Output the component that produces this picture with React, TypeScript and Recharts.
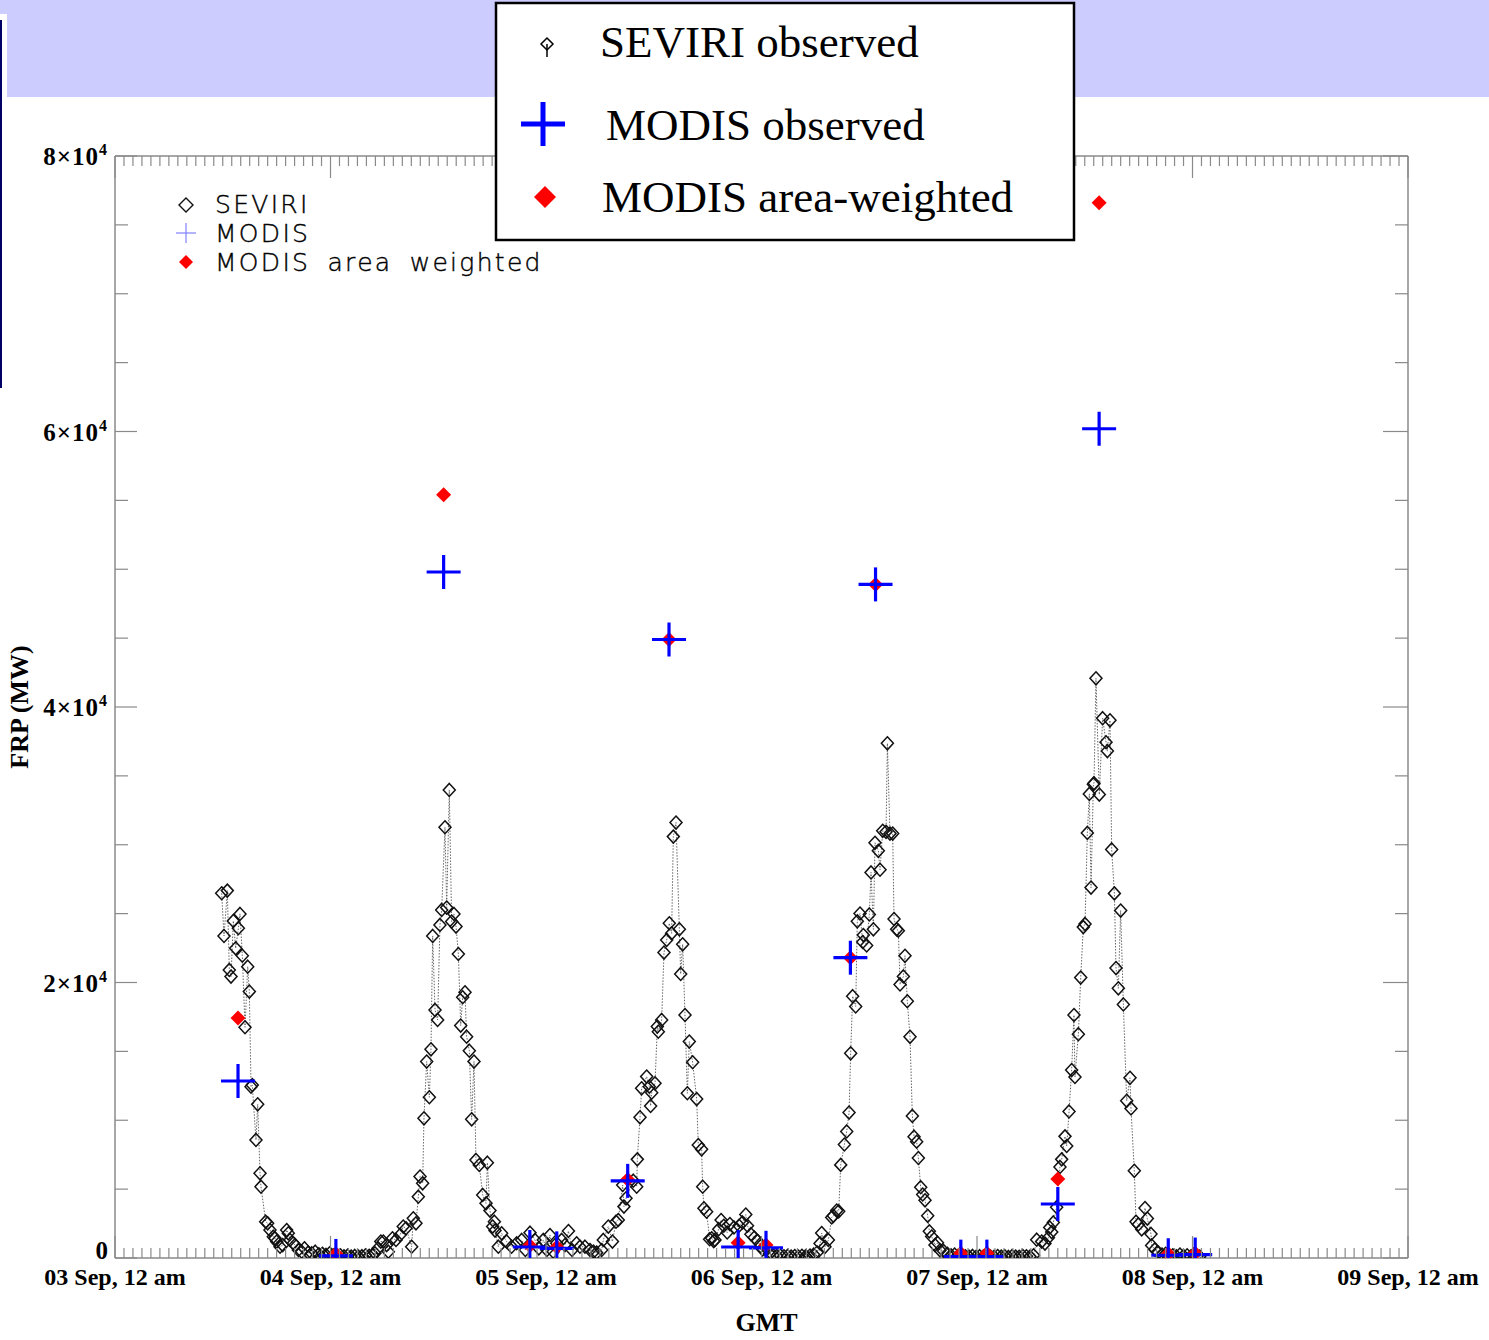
import React from 'react';
import { ScatterChart, Scatter, XAxis, YAxis, Label } from 'recharts';

// ---------- data (hours since 03 Sep 00:00 GMT, FRP in MW) ----------
const dayTickLabels = [
  '03 Sep, 12 am', '04 Sep, 12 am', '05 Sep, 12 am', '06 Sep, 12 am',
  '07 Sep, 12 am', '08 Sep, 12 am', '09 Sep, 12 am',
];
const frpTickMantissa = ['0', '2', '4', '6', '8'];
const frpTickExponent = '4';

const boxLegendNames = ['SEVIRI observed', 'MODIS observed', 'MODIS area-weighted'];
const innerLegendNames = ['SEVIRI', 'MODIS', 'MODIS area weighted'];

const seviriPoints: [number, number][] = [
  [11.88, 26480], [12.14, 23380], [12.51, 26670], [12.73, 20910], [12.92, 20430], [13.18, 24470],
  [13.44, 22480], [13.74, 23940], [13.92, 24980], [14.18, 21950], [14.48, 16750], [14.78, 21150],
  [14.96, 19340], [15.15, 12440], [15.29, 12560], [15.7, 8570], [15.89, 11160], [16.15, 6150],
  [16.26, 5180], [16.78, 2640], [17.0, 2520], [17.26, 2030], [17.63, 1550], [17.82, 1430],
  [18.0, 1190], [18.38, 820], [18.67, 940], [19.12, 2030], [19.3, 1790], [19.49, 1310],
  [19.86, 1070], [20.05, 940], [20.42, 580], [20.8, 460], [21.1, 700], [21.5, 390],
  [21.9, 340], [22.3, 460], [22.7, 270], [23.1, 300], [23.5, 220], [23.9, 340],
  [24.3, 200], [24.7, 150], [25.1, 200], [25.5, 120], [25.9, 170], [26.3, 100],
  [26.7, 150], [27.1, 100], [27.5, 130], [27.9, 200], [28.3, 160], [28.7, 250],
  [28.95, 340], [29.3, 700], [29.6, 1190], [29.88, 1190], [30.25, 940], [30.44, 460],
  [30.9, 1430], [31.3, 1310], [31.74, 1670], [32.1, 2280], [32.41, 2160], [33.04, 820],
  [33.22, 2880], [33.52, 2520], [33.78, 4450], [33.97, 5910], [34.26, 5420], [34.41, 10140],
  [34.71, 14260], [35.01, 11670], [35.19, 15150], [35.38, 23380], [35.64, 18010], [35.93, 17280],
  [36.19, 24180], [36.38, 25270], [36.75, 31270], [36.94, 25440], [37.23, 33980], [37.49, 24420],
  [37.75, 24980], [37.98, 24060], [38.24, 22070], [38.5, 16870], [38.72, 18930], [38.98, 19290],
  [39.16, 16070], [39.46, 15050], [39.72, 10070], [39.98, 14260], [40.2, 7120], [40.57, 6750],
  [40.95, 4580], [41.32, 3970], [41.47, 6920], [41.76, 3440], [42.06, 2280], [42.25, 2640],
  [42.32, 1990], [42.69, 820], [43.06, 1790], [43.62, 1190], [44.17, 820], [44.73, 1070],
  [45.29, 1310], [45.7, 580], [46.22, 1840], [46.77, 1310], [47.2, 700], [47.7, 1310],
  [48.1, 580], [48.44, 1670], [48.8, 460], [49.19, 1070], [49.74, 1310], [50.11, 940],
  [50.5, 1960], [50.9, 580], [51.41, 1070], [51.78, 820], [52.34, 820], [52.9, 580],
  [53.3, 460], [53.64, 390], [54.2, 580], [54.38, 1310], [54.94, 2280], [55.4, 1190],
  [55.8, 2640], [56.05, 2760], [56.54, 5300], [56.68, 3730], [56.91, 4330], [57.72, 5610],
  [58.1, 5180], [58.17, 7160], [58.47, 10210], [58.65, 12320], [59.21, 13170], [59.51, 12440],
  [59.65, 11040], [59.77, 12000], [60.14, 12680], [60.4, 16800], [60.51, 16430], [60.88, 17280],
  [61.14, 22170], [61.44, 23090], [61.73, 24300], [61.99, 23570], [62.18, 30590], [62.48, 31610],
  [62.85, 23860], [63.0, 20620], [63.22, 22770], [63.48, 17640], [63.74, 11960], [63.96, 15710],
  [64.33, 14210], [64.78, 11540], [64.96, 8200], [65.33, 7890], [65.45, 5180], [65.59, 3610],
  [65.89, 3360], [66.22, 1360], [66.45, 1430], [66.68, 1230], [66.82, 1310], [67.24, 2090],
  [67.5, 2760], [67.8, 2340], [68.18, 1850], [68.48, 2460], [68.93, 2220], [69.5, 2340],
  [69.88, 2580], [70.25, 3150], [70.44, 2340], [70.82, 1730], [71.2, 1480], [71.57, 1230],
  [71.9, 860], [72.13, 620], [72.51, 740], [72.9, 300], [73.3, 200], [73.7, 150],
  [74.1, 180], [74.5, 120], [74.9, 150], [75.3, 100], [75.7, 140], [76.1, 110],
  [76.5, 160], [76.9, 120], [77.03, 60], [77.4, 180], [77.8, 250], [78.2, 400],
  [78.52, 1060], [78.7, 1810], [79.07, 810], [79.45, 1310], [79.82, 2940], [80.0, 3060],
  [80.37, 3440], [80.6, 3390], [80.82, 6760], [81.23, 8240], [81.49, 9190], [81.75, 10560],
  [81.93, 14860], [82.15, 19010], [82.49, 18260], [82.67, 24440], [82.97, 25010], [83.27, 22940],
  [83.34, 23440], [83.71, 22690], [84.01, 24940], [84.2, 27990], [84.46, 23860], [84.64, 30140],
  [85.01, 29560], [85.2, 28190], [85.5, 31010], [85.87, 30940], [86.02, 37360], [86.31, 30810],
  [86.61, 30810], [86.76, 24610], [87.05, 23860], [87.24, 23760], [87.43, 19860], [87.8, 20440],
  [87.98, 21940], [88.24, 18640], [88.54, 16060], [88.8, 10310], [88.99, 8810], [89.28, 8440],
  [89.47, 7260], [89.73, 5140], [89.95, 4610], [90.21, 4190], [90.51, 3060], [90.69, 1940],
  [90.95, 1560], [91.32, 940], [91.6, 1110], [91.88, 560], [92.28, 500], [92.7, 300],
  [93.1, 200], [93.5, 250], [93.9, 150], [94.3, 180], [94.7, 120], [95.1, 100],
  [95.5, 150], [95.9, 90], [96.3, 130], [96.7, 100], [97.1, 160], [97.5, 110],
  [97.9, 90], [98.3, 140], [98.7, 100], [99.1, 120], [99.5, 80], [99.9, 130],
  [100.3, 100], [100.7, 90], [101.1, 150], [101.5, 120], [101.9, 100], [102.3, 200],
  [102.65, 1330], [103.2, 1190], [103.57, 1050], [103.95, 1470], [104.1, 2220], [104.32, 1880],
  [104.5, 2580], [104.87, 3690], [105.24, 6610], [105.43, 7160], [105.8, 8830], [105.99, 8130],
  [106.25, 10640], [106.54, 13640], [106.8, 17640], [106.91, 13140], [107.29, 16250], [107.55, 20360],
  [107.84, 24020], [108.03, 24250], [108.29, 30860], [108.51, 33690], [108.7, 26890], [108.96, 34390],
  [109.03, 34470], [109.25, 42080], [109.62, 33640], [109.99, 39190], [110.37, 37440], [110.52, 36800],
  [110.81, 39030], [111.0, 29660], [111.3, 26470], [111.48, 21050], [111.74, 19580], [112.0, 25220],
  [112.3, 18410], [112.67, 11410], [113.04, 13080], [113.15, 10860], [113.52, 6330], [113.71, 2640],
  [113.97, 2440], [114.34, 2080], [114.71, 3630], [114.97, 2860], [115.38, 1750], [115.45, 910],
  [115.8, 620], [116.2, 400], [116.6, 250], [117.0, 300], [117.4, 150], [117.8, 200],
  [118.2, 120], [118.6, 250], [119.0, 150], [119.4, 200], [119.8, 100], [120.1, 250],
  [120.5, 150], [120.8, 100],
];

const modisHours = [13.7, 24.6, 36.6, 46.2, 49.2, 57.1, 61.7, 69.4, 72.5, 81.9, 84.7, 94.2, 97.1, 105.0, 109.6, 117.3, 120.3];
const modisObservedFrp = [12850, 150, 49800, 800, 700, 5600, 44900, 800, 740, 21800, 48900, 100, 100, 3920, 60200, 200, 250];
const modisWeightedFrp = [17420, 300, 55400, 900, 800, 5700, 44900, 1100, 950, 21800, 48900, 350, 350, 5735, 76600, 300, 350];

const seviriData = seviriPoints.map(([h, frp]) => ({ h, frp }));
const modisObservedData = modisHours.map((h, i) => ({ h, frp: modisObservedFrp[i] }));
const modisWeightedData = modisHours.map((h, i) => ({ h, frp: modisWeightedFrp[i] }));

const hourTicks = Array.from({ length: 145 }, (_, i) => i);
const frpTicks = Array.from({ length: 17 }, (_, i) => i * 5000);

// ---------- styles ----------
const AXIS = '#8a8a8a';
const SERIF = '"Liberation Serif", "Times New Roman", serif';
const BLUE = '#0000ff';
const RED = '#ff0000';

const BottomTick = (p: any) => {
  const { x, y, payload } = p;
  const v = payload.value as number;
  const major = v % 24 === 0;
  return (
    <g>
      <line x1={x} x2={x} y1={y} y2={y - (major ? 22 : 10)} stroke={AXIS} strokeWidth={1.2} />
      {major && (
        <text x={x} y={y + 27} textAnchor="middle" fontFamily={SERIF} fontWeight="bold" fontSize={24} fill="#000">
          {dayTickLabels[v / 24]}
        </text>
      )}
    </g>
  );
};

const TopTick = (p: any) => {
  const { x, y, payload } = p;
  const major = (payload.value as number) % 24 === 0;
  return <line x1={x} x2={x} y1={y} y2={y + (major ? 22 : 10)} stroke={AXIS} strokeWidth={1.2} />;
};

const LeftTick = (p: any) => {
  const { x, y, payload } = p;
  const v = payload.value as number;
  const major = v % 20000 === 0;
  const idx = v / 20000;
  return (
    <g>
      <line x1={x} x2={x + (major ? 22 : 13)} y1={y} y2={y} stroke={AXIS} strokeWidth={1.2} />
      {major && (
        <text x={x - 7} y={v === 0 ? y + 1 : y + 9} textAnchor="end" fontFamily={SERIF} fontWeight="bold"
          fontSize={25} fill="#000" letterSpacing={v === 0 ? 0 : 1}>
          {v === 0 ? frpTickMantissa[idx] : `${frpTickMantissa[idx]}\u00d710`}
          {v !== 0 && <tspan dy={-10} fontSize={16}>{frpTickExponent}</tspan>}
        </text>
      )}
    </g>
  );
};

const RightTick = (p: any) => {
  const { x, y, payload } = p;
  const major = (payload.value as number) % 20000 === 0;
  return <line x1={x} x2={x - (major ? 25 : 13)} y1={y} y2={y} stroke={AXIS} strokeWidth={1.2} />;
};

const HollowDiamond = (p: any) => {
  const { cx, cy } = p;
  if (cx == null || cy == null) return null;
  return (
    <path d={`M${cx},${cy - 6.5} L${cx + 6},${cy} L${cx},${cy + 6.5} L${cx - 6},${cy} Z`}
      fill="none" stroke="#111" strokeWidth={1.5} />
  );
};

const RedDiamond = (p: any) => {
  const { cx, cy } = p;
  if (cx == null || cy == null) return null;
  return <path d={`M${cx},${cy - 7.5} L${cx + 7.5},${cy} L${cx},${cy + 7.5} L${cx - 7.5},${cy} Z`} fill={RED} />;
};

const BlueCross = (p: any) => {
  const { cx, cy } = p;
  if (cx == null || cy == null) return null;
  return (
    <g stroke={BLUE} strokeWidth={3.2}>
      <line x1={cx - 17} x2={cx + 17} y1={cy} y2={cy} />
      <line x1={cx} x2={cx} y1={cy - 17} y2={cy + 17} />
    </g>
  );
};

const axisLine = { stroke: AXIS, strokeWidth: 1.5 };

export default function App() {
  return (
    <div style={{ position: 'absolute', left: 0, top: 0, width: 1489, height: 1340, background: '#fff', overflow: 'hidden' }}>
      {/* slide decoration */}
      <div style={{ position: 'absolute', left: 7, top: 0, width: 1482, height: 97, background: '#ccccff' }} />
      <div style={{ position: 'absolute', left: 0, top: 0, width: 7, height: 14, background: '#ccccff' }} />
      <div style={{ position: 'absolute', left: 0, top: 20, width: 2, height: 368, background: '#000066' }} />

      <div style={{ position: 'absolute', left: 0, top: 0 }}>
        <ScatterChart width={1489} height={1340} margin={{ top: 155, right: 80, bottom: 81, left: 114 }}>
          <XAxis xAxisId="b" type="number" dataKey="h" domain={[0, 144]} ticks={hourTicks} interval={0}
            allowDataOverflow tickSize={0} tickMargin={0} height={1} axisLine={axisLine} tickLine={false}
            tick={<BottomTick />}>
            <Label value="GMT" position="bottom" offset={54} dx={5}
              style={{ fontFamily: SERIF, fontWeight: 'bold', fontSize: 26, fill: '#000' }} />
          </XAxis>
          <XAxis xAxisId="t" orientation="top" type="number" dataKey="h" domain={[0, 144]} ticks={hourTicks}
            interval={0} allowDataOverflow tickSize={0} tickMargin={0} height={1} axisLine={axisLine}
            tickLine={false} tick={<TopTick />} />
          <YAxis yAxisId="l" type="number" dataKey="frp" domain={[0, 80000]} ticks={frpTicks} interval={0}
            allowDataOverflow tickSize={0} tickMargin={0} width={1} axisLine={axisLine} tickLine={false}
            tick={<LeftTick />}>
            <Label value="FRP (MW)" angle={-90} position="left" offset={95}
              style={{ fontFamily: SERIF, fontWeight: 'bold', fontSize: 26, fill: '#000', textAnchor: 'middle' }} />
          </YAxis>
          <YAxis yAxisId="r" orientation="right" type="number" dataKey="frp" domain={[0, 80000]} ticks={frpTicks}
            interval={0} allowDataOverflow tickSize={0} tickMargin={0} width={1} axisLine={axisLine}
            tickLine={false} tick={<RightTick />} />

          <Scatter name="SEVIRI" xAxisId="b" yAxisId="l" data={seviriData} isAnimationActive={false}
            line={{ stroke: '#555', strokeWidth: 0.9, strokeDasharray: '1.5 1.5' }} lineType="joint"
            shape={(p: any) => <HollowDiamond {...p} />} />
          <Scatter name="MODIS area weighted" xAxisId="b" yAxisId="l" data={modisWeightedData}
            isAnimationActive={false} shape={(p: any) => <RedDiamond {...p} />} />
          <Scatter name="MODIS" xAxisId="b" yAxisId="l" data={modisObservedData} isAnimationActive={false}
            shape={(p: any) => <BlueCross {...p} />} />
          {/* hidden series that binds the mirrored top / right axes */}
          <Scatter name="frame" xAxisId="t" yAxisId="r" data={modisObservedData} isAnimationActive={false}
            shape={() => null} legendType="none" />
        </ScatterChart>
      </div>

      {/* legends */}
      <svg width={1489} height={1340} style={{ position: 'absolute', left: 0, top: 0, pointerEvents: 'none' }}>
        {/* inner IDL-style legend */}
        <g fontFamily='"DejaVu Sans", sans-serif' fontSize={25} fill="#000" fontWeight={200} letterSpacing={2.3}
          stroke="#000" strokeWidth={0.4}>
          <text x={215} y={213}>{innerLegendNames[0]}</text>
          <text x={215} y={242}>{innerLegendNames[1]}</text>
          <text x={215} y={271} wordSpacing={7}>{innerLegendNames[2]}</text>
        </g>
        <path d="M186,198 L193,205 L186,212 L179,205 Z" fill="none" stroke="#111" strokeWidth={1.4} />
        <g stroke="#8080ff" strokeWidth={1.2}>
          <line x1={176} x2={196} y1={233} y2={233} />
          <line x1={186} x2={186} y1={223} y2={243} />
        </g>
        <path d="M186,255 L193,262 L186,269 L179,262 Z" fill={RED} />

        {/* boxed legend */}
        <rect x={496} y={3} width={578} height={237} fill="#fff" stroke="#000" strokeWidth={2.5} />
        <path d="M547,38 L553,44 L547,50 L541,44 Z" fill="none" stroke="#000" strokeWidth={1.5} />
        <line x1={547} x2={547} y1={44} y2={57} stroke="#000" strokeWidth={1.5} />
        <g stroke={BLUE} strokeWidth={5}>
          <line x1={521} x2={565} y1={124} y2={124} />
          <line x1={543} x2={543} y1={102} y2={146} />
        </g>
        <path d="M545,186 L556,197 L545,208 L534,197 Z" fill={RED} />
        <g fontFamily={SERIF} fontSize={45} fill="#000">
          <text x={600} y={57}>{boxLegendNames[0]}</text>
          <text x={606} y={140}>{boxLegendNames[1]}</text>
          <text x={602} y={212}>{boxLegendNames[2]}</text>
        </g>
      </svg>
    </div>
  );
}
